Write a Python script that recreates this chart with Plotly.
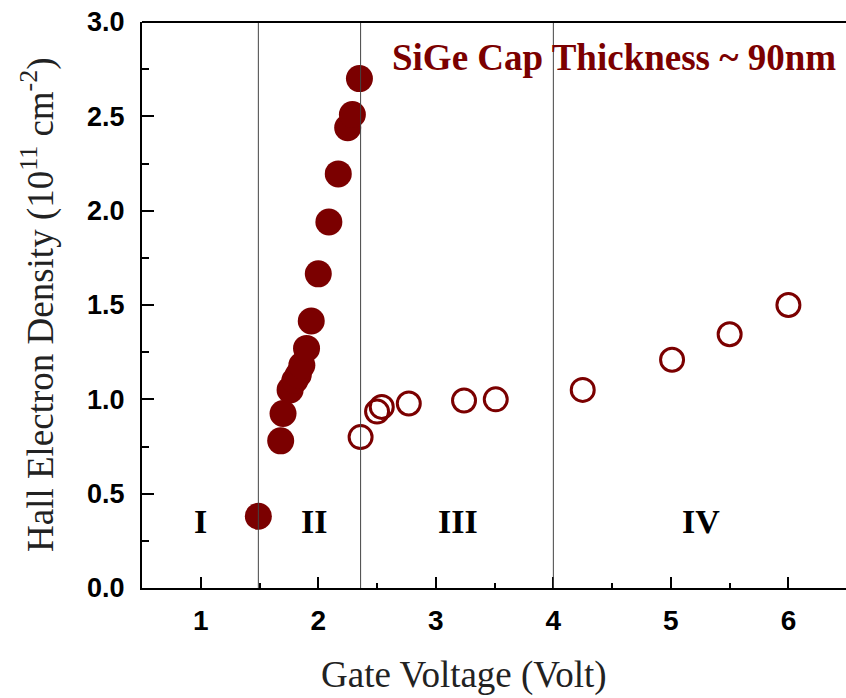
import plotly.graph_objects as go

# Filled symbols (regime II)
filled_x = [1.49, 1.68, 1.70, 1.76, 1.80, 1.83, 1.86, 1.90, 1.94, 2.00, 2.09, 2.17, 2.25, 2.29, 2.35]
filled_y = [0.38, 0.78, 0.925, 1.05, 1.10, 1.13, 1.18, 1.27, 1.415, 1.665, 1.94, 2.195, 2.44, 2.51, 2.70]

# Open symbols (regimes III & IV)
open_x = [2.36, 2.50, 2.54, 2.77, 3.24, 3.51, 4.25, 5.01, 5.50, 6.00]
open_y = [0.80, 0.935, 0.96, 0.978, 0.994, 1.00, 1.05, 1.21, 1.345, 1.50]

# Region boundaries and labels
boundaries = [1.49, 2.36, 4.0]
region_labels = ["I", "II", "III", "IV"]
region_x = [1.0, 1.96, 3.19, 5.26]
region_y = [0.35, 0.35, 0.35, 0.35]

x_ticks = [1, 2, 3, 4, 5, 6]
y_ticks = [0.0, 0.5, 1.0, 1.5, 2.0, 2.5, 3.0]

RED = "#7b0000"

fig = go.Figure()
fig.add_trace(go.Scatter(
    x=filled_x, y=filled_y, mode="markers",
    marker=dict(symbol="circle", size=27, color=RED, line=dict(width=0)),
    showlegend=False, cliponaxis=False))
fig.add_trace(go.Scatter(
    x=open_x, y=open_y, mode="markers",
    marker=dict(symbol="circle-open", size=23, color=RED, line=dict(width=3, color=RED)),
    showlegend=False, cliponaxis=False))

for bx in boundaries:
    fig.add_shape(type="line", x0=bx, x1=bx, y0=0, y1=3, xref="x", yref="y",
                  line=dict(color="#444444", width=1), layer="above")

# top frame line
fig.add_shape(type="line", x0=0, x1=1, y0=1, y1=1, xref="paper", yref="paper",
              line=dict(color="black", width=2), layer="above")

for lab, lx, ly in zip(region_labels, region_x, region_y):
    fig.add_annotation(x=lx, y=ly, text=lab, showarrow=False, xref="x", yref="y",
                       font=dict(family="Liberation Serif", size=34, color="black", weight="bold"))

fig.add_annotation(x=6.42, y=2.81, xref="x", yref="y", text="SiGe Cap Thickness ~ 90nm",
                   showarrow=False, xanchor="right", yanchor="middle",
                   font=dict(family="Liberation Serif", size=37, color=RED, weight="bold"))

# axis titles
fig.add_annotation(x=(464 - 142) / 704, y=(588 - 675) / 566, xref="paper", yref="paper",
                   text="Gate Voltage (Volt)", showarrow=False, xanchor="center", yanchor="middle",
                   font=dict(family="Liberation Serif", size=37, color="#222222"))
fig.add_annotation(x=(38 - 142) / 704, y=(588 - 305) / 566,
                   xref="paper", yref="paper",
                   text="Hall Electron Density (10<sup>11</sup> cm<sup>-2</sup>)",
                   showarrow=False, textangle=-90, xanchor="center", yanchor="middle",
                   font=dict(family="Liberation Serif", size=37, color="#222222"))

fig.update_layout(
    width=846, height=698,
    margin=dict(l=142, r=0, t=22, b=110),
    paper_bgcolor="white", plot_bgcolor="white",
    xaxis=dict(range=[0.5, 6.49], tickmode="array", tickvals=x_ticks,
               ticktext=[str(v) for v in x_ticks],
               showgrid=False, zeroline=False, showline=True, linecolor="black", linewidth=2,
               ticks="inside", ticklen=11, tickwidth=2, tickcolor="black",
               ticklabelstandoff=6,
               minor=dict(dtick=0.5, tick0=0.5, ticks="inside", ticklen=5, tickwidth=2, tickcolor="black"),
               tickfont=dict(family="Liberation Sans", size=28, color="black", weight="bold")),
    yaxis=dict(range=[0, 3], tickmode="array", tickvals=y_ticks,
               ticktext=[f"{v:.1f}" for v in y_ticks],
               showgrid=False, zeroline=False, showline=True, linecolor="black", linewidth=2,
               ticks="inside", ticklen=12, tickwidth=2, tickcolor="black",
               ticklabelstandoff=10,
               minor=dict(dtick=0.25, tick0=0, ticks="inside", ticklen=7, tickwidth=2, tickcolor="black"),
               tickfont=dict(family="Liberation Sans", size=27, color="black", weight="bold")),
)

fig.write_html("out.html")
